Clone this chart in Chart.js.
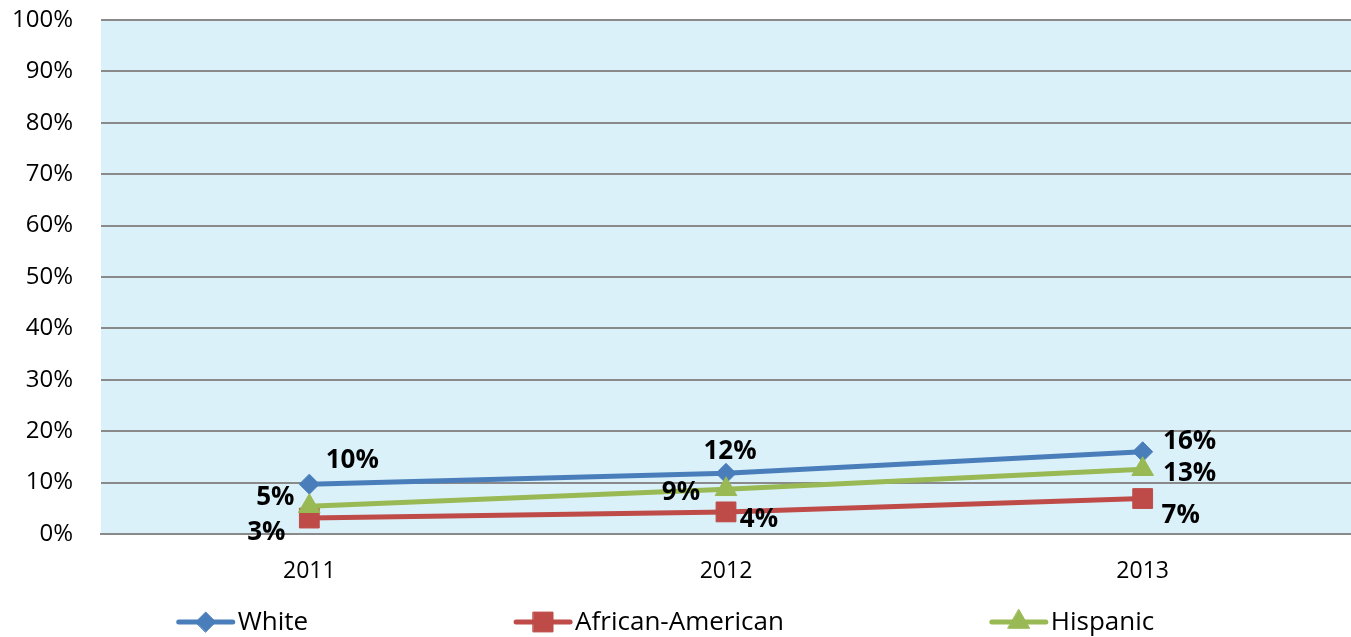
<!DOCTYPE html>
<html>
<head>
<meta charset="utf-8">
<script src="https://cdn.jsdelivr.net/npm/chart.js@4/dist/chart.umd.min.js"></script>
<style>
  html, body { margin: 0; padding: 0; background: #ffffff; overflow: hidden; }
  #wrap { width: 1351px; height: 637px; position: relative; }
  #chart { display: block; }
</style>
</head>
<body>
<div id="wrap"><canvas id="chart"></canvas></div>
<script>
// Share of each group, by year (percent)
const years = ['2011', '2012', '2013'];
const white = [9.7, 11.8, 16.0];
const africanAmerican = [3.1, 4.3, 6.9];
const hispanic = [5.4, 8.7, 12.6];
const seriesNames = ['White', 'African-American', 'Hispanic'];
const yTickValues = [0, 10, 20, 30, 40, 50, 60, 70, 80, 90, 100];

const COLORS = ['#4A7EBB', '#BE4B48', '#98B954'];
const FONT = '"Open Sans", "DejaVu Sans", sans-serif';

// Where each value label sits relative to its point [dx, dy]
const labelOffsets = [
  [[43, -24], [4, -22], [47, -10]],
  [[-43, 15], [33, 8], [38, 17]],
  [[-34, -9], [-45, 3], [47, 4]]
];

const plotBackground = {
  id: 'plotBackground',
  beforeDraw(chart) {
    const { ctx, chartArea: a } = chart;
    ctx.save();
    ctx.fillStyle = '#DAF1FA';
    ctx.fillRect(a.left, a.top, a.right - a.left, a.bottom - a.top);
    ctx.restore();
  }
};

const valueLabels = {
  id: 'valueLabels',
  afterDatasetsDraw(chart) {
    const { ctx } = chart;
    ctx.save();
    ctx.font = 'bold 26px ' + FONT;
    ctx.fillStyle = '#000000';
    ctx.textAlign = 'center';
    ctx.textBaseline = 'middle';
    chart.data.datasets.forEach((ds, di) => {
      const meta = chart.getDatasetMeta(di);
      meta.data.forEach((pt, i) => {
        const off = labelOffsets[di][i];
        ctx.fillText(Math.round(ds.data[i]) + '%', pt.x + off[0], pt.y + off[1]);
      });
    });
    ctx.restore();
  }
};

// Legend: short line with the series marker, then the name
const lineLegend = {
  id: 'lineLegend',
  afterDraw(chart) {
    const { ctx } = chart;
    const y = 622;
    const lineLen = 58, textGap = 3, itemGap = 206;
    ctx.save();
    ctx.font = '26px ' + FONT;
    ctx.textBaseline = 'middle';
    ctx.textAlign = 'left';
    const widths = chart.data.datasets.map(ds => lineLen + textGap + ctx.measureText(ds.label).width);
    const total = widths.reduce((s, w) => s + w, 0) + itemGap * (widths.length - 1);
    let x = (chart.width - total) / 2 - 10;
    chart.data.datasets.forEach((ds, di) => {
      ctx.strokeStyle = ds.borderColor;
      ctx.fillStyle = ds.borderColor;
      ctx.lineWidth = 5;
      ctx.lineCap = 'round';
      ctx.beginPath();
      ctx.moveTo(x + 2, y);
      ctx.lineTo(x + lineLen - 2, y);
      ctx.stroke();
      ctx.lineWidth = 1;
      Chart.helpers.drawPoint(ctx, {
        pointStyle: ds.pointStyle,
        radius: ds.pointRadius,
        borderWidth: 1,
        rotation: 0
      }, x + lineLen / 2, y);
      ctx.fillStyle = '#000000';
      ctx.fillText(ds.label, x + lineLen + textGap, y + 1);
      x += widths[di] + itemGap;
    });
    ctx.restore();
  }
};

function series(label, data, color, style, radius, order) {
  return {
    label, data,
    borderColor: color,
    backgroundColor: color,
    borderWidth: 5,
    pointStyle: style,
    pointRadius: radius,
    pointHoverRadius: radius,
    pointBackgroundColor: color,
    pointBorderColor: color,
    pointBorderWidth: 1,
    tension: 0,
    order
  };
}

new Chart(document.getElementById('chart'), {
  type: 'line',
  data: {
    labels: years,
    datasets: [
      series(seriesNames[0], white, COLORS[0], 'rectRot', 10, 3),
      series(seriesNames[1], africanAmerican, COLORS[1], 'rect', 14, 2),
      series(seriesNames[2], hispanic, COLORS[2], 'triangle', 12.5, 1)
    ]
  },
  options: {
    responsive: true,
    maintainAspectRatio: false,
    animation: false,
    layout: { autoPadding: false, padding: { top: 20, right: 0, bottom: 0, left: 0 } },
    plugins: {
      legend: { display: false },
      tooltip: { enabled: false }
    },
    scales: {
      x: {
        offset: true,
        grid: { display: false, drawTicks: false },
        border: { display: true, color: '#8A8A8A', width: 2 },
        ticks: { color: '#000000', font: { family: FONT, size: 23 }, padding: 24, maxRotation: 0 },
        afterFit(scale) {
          scale.height = 103;
          scale.paddingLeft = 0;
          scale.paddingRight = 0;
        }
      },
      y: {
        min: 0,
        max: 100,
        afterBuildTicks(scale) { scale.ticks = yTickValues.map(v => ({ value: v })); },
        grid: { color: '#8A8A8A', lineWidth: 2, drawTicks: false },
        border: { display: false },
        ticks: {
          color: '#000000',
          font: { family: FONT, size: 24 },
          padding: 28,
          callback: v => v + '%'
        },
        afterFit(scale) {
          scale.width = 101;
          scale.paddingTop = 0;
          scale.paddingBottom = 0;
        }
      }
    }
  },
  plugins: [plotBackground, valueLabels, lineLegend]
});
</script>
</body>
</html>
